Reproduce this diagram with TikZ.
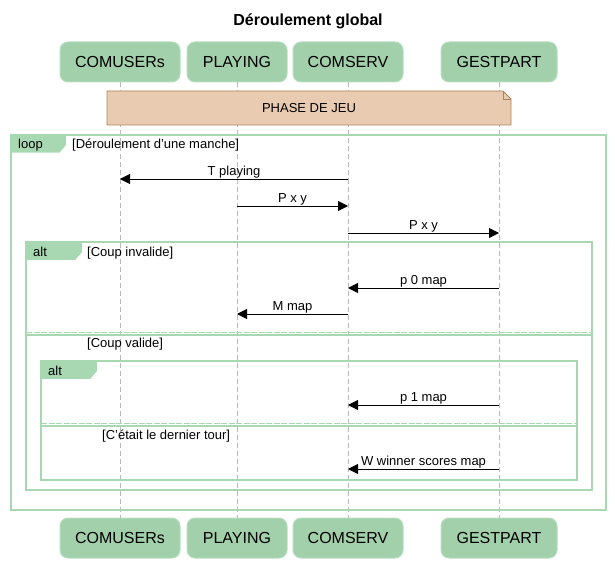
\documentclass[tikz,border=0pt]{standalone}
\usepackage{fontspec}
\setmainfont{Liberation Sans}
\usetikzlibrary{arrows.meta}

\definecolor{partgreen}{HTML}{A2D0AB}
\definecolor{partline}{HTML}{B8DEC0}
\definecolor{framegreen}{HTML}{A8D8B2}
\definecolor{notefill}{HTML}{E8CBB1}
\definecolor{noteline}{HTML}{A98558}

\tikzset{
  participant/.style={rounded corners=8pt, fill=partgreen, draw=partline, line width=1pt, minimum height=40pt, inner sep=0pt, font=\fontsize{16}{19}\selectfont},
  lifeline/.style={gray!55, dash pattern=on 5pt off 3pt, line width=0.8pt},
  msg/.style={-{Triangle[length=10pt,width=10pt]}, line width=0.9pt},
  msglabel/.style={above, inner sep=0.5pt, font=\fontsize{13}{15}\selectfont},
  frame/.style={draw=framegreen, line width=1.5pt},
  tab/.style={fill=framegreen, draw=framegreen, line width=1.5pt, line join=round},
  separator/.style={framegreen, line width=1.6pt},
  guard/.style={anchor=west, inner sep=0pt, font=\fontsize{13}{15}\selectfont},
}

\begin{document}
\begin{tikzpicture}[x=1pt, y=-1pt]
        \useasboundingbox (0,0) rectangle (615,564);

        % Title
        \node[font=\fontsize{16}{19}\selectfont\bfseries] (title) at (308,21) {Déroulement global};

        % Participants, top and bottom, with their lifelines
        \foreach \name/\label/\x/\w in {comusers/COMUSERs/120/120, playing/PLAYING/237/100, comserv/COMSERV/348/110, gestpart/GESTPART/499/116} {
            \node[participant, minimum width=\w pt] (\name) at (\x,62) {\label};
            \node[participant, minimum width=\w pt] (\name-bot) at (\x,538) {\label};
            \draw[lifeline] (\name) -- (\name-bot);
        }

        % Note over the participants
        \draw[fill=notefill, draw=noteline, line width=0.9pt] (107,91) -- (503,91) -- (511,99) -- (511,125) -- (107,125) -- cycle;
        \draw[draw=noteline, line width=0.9pt] (503,91) -- (503,99) -- (511,99);
        \node[font=\fontsize{13}{15}\selectfont] (phase) at (309,108) {PHASE DE JEU};

        % Frames: loop, outer alt, inner alt
        \draw[frame] (11,135) rectangle (606,510);
        \draw[frame] (26,242) rectangle (592,490);
        \draw[frame] (41,361) rectangle (577,480);

        % Frame tabs
        \foreach \x/\y/\w/\kind in {11/135/54/loop, 26/242/55/alt, 41/361/55/alt} {
            \draw[tab] (\x,\y) -- ++(\w,0) -- ++(0,10) -- ++(-6,7) -- (\x,\y+17) -- cycle;
            \node[guard] at (\x+7,\y+10) {\kind};
        }

        % Guards
        \node[guard] (g-manche) at (72,145) {[Déroulement d'une manche]};
        \node[guard] (g-invalide) at (87,253) {[Coup invalide]};
        \node[guard] (g-valide) at (87,344) {[Coup valide]};
        \node[guard] (g-dernier) at (102,436) {[C'était le dernier tour]};

        % Alternative separators (dashed over solid)
        \draw[separator] (26,335) -- (592,335);
        \draw[separator, line width=1.1pt, dash pattern=on 6pt off 1.5pt] (26,332.5) -- (592,332.5);
        \draw[separator] (41,426) -- (577,426);
        \draw[separator, line width=1.1pt, dash pattern=on 6pt off 1.5pt] (41,423.5) -- (577,423.5);

        % Message heights
        \coordinate (m1) at (0,179);
        \coordinate (m2) at (0,206);
        \coordinate (m3) at (0,233);
        \coordinate (m4) at (0,288);
        \coordinate (m5) at (0,314);
        \coordinate (m6) at (0,405);
        \coordinate (m7) at (0,469);

        % Messages
        \draw[msg] (comserv |- m1) -- (comusers |- m1) node[msglabel, midway] {T playing};
        \draw[msg] (playing |- m2) -- (comserv |- m2) node[msglabel, midway] {P x y};
        \draw[msg] (comserv |- m3) -- (gestpart |- m3) node[msglabel, midway] {P x y};
        \draw[msg] (gestpart |- m4) -- (comserv |- m4) node[msglabel, midway] {p 0 map};
        \draw[msg] (comserv |- m5) -- (playing |- m5) node[msglabel, midway] {M map};
        \draw[msg] (gestpart |- m6) -- (comserv |- m6) node[msglabel, midway] {p 1 map};
        \draw[msg] (gestpart |- m7) -- (comserv |- m7) node[msglabel, midway] {W winner scores map};
\end{tikzpicture}
\end{document}
